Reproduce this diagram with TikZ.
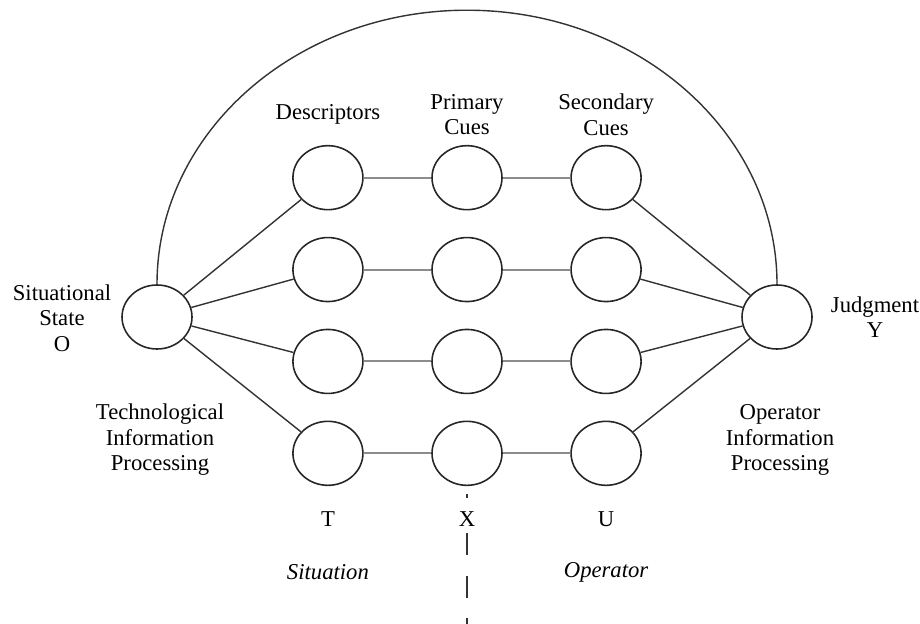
\documentclass[tikz,border=0pt]{standalone}
\usepackage{fontspec}
\setmainfont{Liberation Serif}
\usetikzlibrary{calc,positioning,shapes,matrix}

\begin{document}
\begin{tikzpicture}[auto,
  every node/.style={align=center,text=black,font=\fontsize{12.9}{14.5}\selectfont},
  blob/.style={ellipse,draw=black!85,line width=0.9pt,minimum width=1.4cm,minimum height=1.28cm,inner sep=0pt},
  wire/.style={draw=black!80,line width=0.8pt},
  link/.style={draw=black!45,line width=1.1pt}]

  \useasboundingbox (0,0) rectangle (18.4,-12.48);

  \matrix[matrix of nodes, nodes in empty cells, nodes={blob}, column sep=1.35cm, row sep=0.526cm] (m) at (9.34,-6.31) {
    & & \\
    & & \\
    & & \\
    & & \\
  };

  \node[blob] (O) at (3.14,-6.34) {};
  \node[blob] (Y) at (15.54,-6.34) {};

  % labels
  \node (sit) at ([xshift=-1.9cm,yshift=-0.02cm]O) {Situational\\State\\O};
  \node (judg) at ([xshift=1.96cm]Y) {Judgment\\Y};
  \node (tech) at ([xshift=0.06cm,yshift=-2.46cm]O) {Technological\\Information\\Processing};
  \node (opinf) at ([xshift=0.06cm,yshift=-2.46cm]Y) {Operator\\Information\\Processing};
  \node (desc) at ([yshift=1.26cm]m-1-1) {Descriptors};
  \node (prim) at ([yshift=1.26cm]m-1-2) {Primary\\Cues};
  \node (sec) at ([yshift=1.26cm]m-1-3) {Secondary\\Cues};
  \node (T) at ([yshift=-1.32cm]m-4-1) {T};
  \node (X) at ([yshift=-1.32cm]m-4-2) {X};
  \node (U) at ([yshift=-1.32cm]m-4-3) {U};
  \node (situ) at ([yshift=-2.38cm]m-4-1) {\itshape Situation};
  \node (oper) at ([yshift=-2.38cm]m-4-3) {\itshape Operator};

  \foreach \r in {1,...,4} {
    \path[wire] (O) -- (m-\r-1);
    \path[wire] (m-\r-3) -- (Y);
    \path[link] (m-\r-1) -- (m-\r-2) (m-\r-2) -- (m-\r-3);
  }

  \path[wire] (O.north) arc[start angle=180,end angle=0,x radius=6.2cm,y radius=5.48cm];

  \coordinate (cut top) at ([yshift=-0.16cm]m-4-2.south);
  \coordinate (cut end) at ([yshift=-2.76cm]m-4-2.south);
  \path[wire,line width=0.6pt,dash pattern=on 2.3pt off 19.9pt on 12.5pt off 12pt on 12.5pt off 11.4pt on 3.4pt off 20pt]
    (cut top) -- (cut end);

\end{tikzpicture}
\end{document}
